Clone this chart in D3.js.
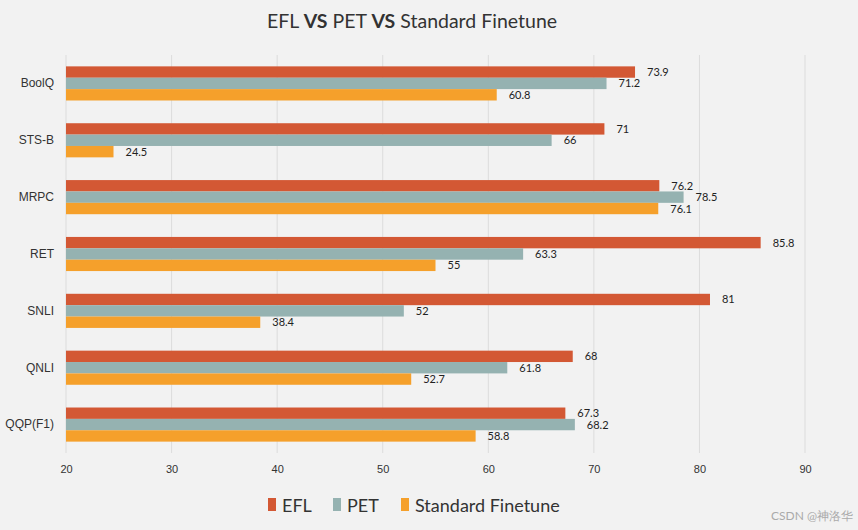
<!DOCTYPE html>
<html><head><meta charset="utf-8">
<script src="https://cdn.jsdelivr.net/npm/d3@7/dist/d3.min.js"></script>
<style>
html,body{margin:0;padding:0;background:#f2f2f2;}
svg{display:block;font-family:Lato,"Open Sans",sans-serif;}
</style></head>
<body>
<svg id="chart" width="858" height="530"></svg>
<script>
const categories = ["BoolQ","STS-B","MRPC","RET","SNLI","QNLI","QQP(F1)"];
const seriesNames = ["EFL","PET","Standard Finetune"];
const eflValues = [73.9, 71, 76.2, 85.8, 81, 68, 67.3];
const petValues = [71.2, 66, 78.5, 63.3, 52, 61.8, 68.2];
const sfValues = [60.8, 24.5, 76.1, 55, 38.4, 52.7, 58.8];
const xTicks = [20,30,40,50,60,70,80,90];
const colors = ["#d35834","#95b2b1","#f5a02b"];

(function(){
const seriesValues = [eflValues, petValues, sfValues];
const svg = d3.select("#chart");
const W = 858, H = 530;
svg.append("rect").attr("width",W).attr("height",H).attr("fill","#f2f2f2");

const pLeft = 66, pRight = 805, pTop = 55, pBottom = 453;
const x = d3.scaleLinear().domain([20,90]).range([pLeft,pRight]);
const y = d3.scaleBand().domain(categories).range([pTop,pBottom]).paddingInner(0.4).paddingOuter(0.2);
const ys = d3.scaleBand().domain(seriesNames).range([0,y.bandwidth()]);

// gridlines
const grid = svg.append("g");
grid.selectAll("line").data(xTicks).join("line")
  .attr("x1",d=>x(d)).attr("x2",d=>x(d))
  .attr("y1",pTop).attr("y2",pBottom)
  .attr("stroke","#dcdcdc").attr("stroke-width",1);

// x axis
const xAxis = svg.append("g").attr("transform",`translate(0,${pBottom})`)
  .call(d3.axisBottom(x).tickValues(xTicks).tickSize(0).tickPadding(12));
xAxis.select(".domain").remove();
xAxis.selectAll("text").attr("font-size",11).attr("fill","#333");

// y axis
const yAxis = svg.append("g").attr("transform",`translate(${pLeft},0)`)
  .call(d3.axisLeft(y).tickSize(0).tickPadding(12));
yAxis.select(".domain").remove();
yAxis.selectAll("text").attr("font-size",12).attr("fill","#333");

// bars
const rows = [];
categories.forEach((c,i)=>{
  seriesNames.forEach((s,j)=>{ rows.push({c, s, j, v: seriesValues[j][i]}); });
});
svg.append("g").selectAll("rect").data(rows).join("rect")
  .attr("x", x(20))
  .attr("y", d=>y(d.c)+ys(d.s))
  .attr("width", d=>x(d.v)-x(20))
  .attr("height", ys.bandwidth())
  .attr("fill", d=>colors[d.j]);

svg.append("g").selectAll("text").data(rows).join("text")
  .attr("x", d=>x(d.v)+12)
  .attr("y", d=>y(d.c)+ys(d.s)+ys.bandwidth()/2+4)
  .attr("font-size",11).attr("fill","#222")
  .text(d=>d.v);

// title
const title = svg.append("text").attr("x",412).attr("y",28)
  .attr("text-anchor","middle").attr("font-size",19.5).attr("fill","#333");
[["EFL ",400],["VS",700],[" PET ",400],["VS",700],[" Standard Finetune",400]].forEach(([t,w])=>{
  title.append("tspan").attr("font-weight",w).text(t);
});

// legend
const legendX = [268, 333, 401];
const lg = svg.append("g");
seriesNames.forEach((s,j)=>{
  lg.append("rect").attr("x",legendX[j]).attr("y",498).attr("width",8).attr("height",13).attr("fill",colors[j]);
  lg.append("text").attr("x",legendX[j]+14).attr("y",512).attr("font-size",18).attr("fill","#333").text(s);
});

// watermark
svg.append("text").attr("x",853).attr("y",520).attr("text-anchor","end")
  .attr("font-size",12).attr("fill","#aaa").text("CSDN @神洛华");
})();
</script>
</body></html>
